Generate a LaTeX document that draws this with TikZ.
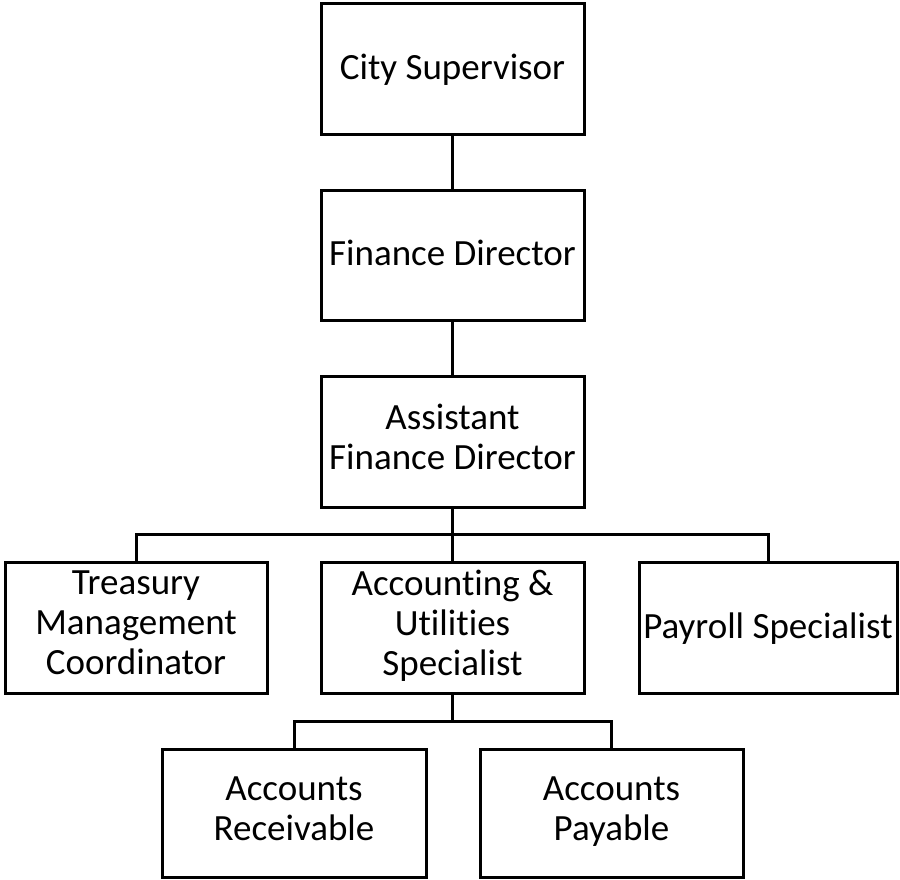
\documentclass[tikz,border=0pt]{standalone}
\usepackage{fontspec}
\setmainfont{Carlito}[Ligatures=NoCommon]
% invisible strut giving every label the same first-line height and last-line depth
\newcommand\labelstrut{\rule[-9.4pt]{0pt}{40pt}}
\begin{document}
\begin{tikzpicture}[x=1pt,y=-1pt,
  post/.style={draw=black, line width=3pt, rectangle, inner sep=0pt,
    align=center, font=\fontsize{37}{40}\selectfont,
    execute at begin node=\labelstrut, execute at end node=\labelstrut},
  link/.style={draw=black, line width=3pt}]
  \useasboundingbox (0,0) rectangle (900,879);

  % positions
  \node[post, minimum width=263pt, minimum height=131pt] (city) at (452.5,68.5) {City Supervisor};
  \node[post, minimum width=263pt, minimum height=130pt] (fd) at (452.5,255) {Finance Director};
  \node[post, minimum width=263pt, minimum height=131pt] (afd) at (452.5,441.5) {Assistant\\Finance Director};
  \node[post, minimum width=262pt, minimum height=131pt] (treasury) at (136,627.5) {Treasury\\Management\\Coordinator};
  \node[post, minimum width=263pt, minimum height=131pt] (acct) at (452.5,627.5) {Accounting \&\\Utilities\\Specialist};
  \node[post, minimum width=258pt, minimum height=131pt] (payroll) at (768,627.5) {Payroll Specialist};
  \node[post, minimum width=264pt, minimum height=128pt] (ar) at (294,813) {Accounts\\Receivable};
  \node[post, minimum width=263pt, minimum height=128pt] (ap) at (611.5,813) {Accounts\\Payable};

  % reporting lines
  \coordinate (bus1) at (452.5,534);
  \coordinate (bus2) at (452.5,721);
  \draw[link] (city) -- (fd);
  \draw[link] (fd) -- (afd);
  \draw[link] (afd) -- (bus1);
  \draw[link] (bus1) -- (acct);
  \draw[link] (treasury.north) |- (bus1) -| (payroll.north);
  \draw[link] (acct) -- (bus2);
  \draw[link] (ar.north) |- (bus2) -| (ap.north);
\end{tikzpicture}
\end{document}
